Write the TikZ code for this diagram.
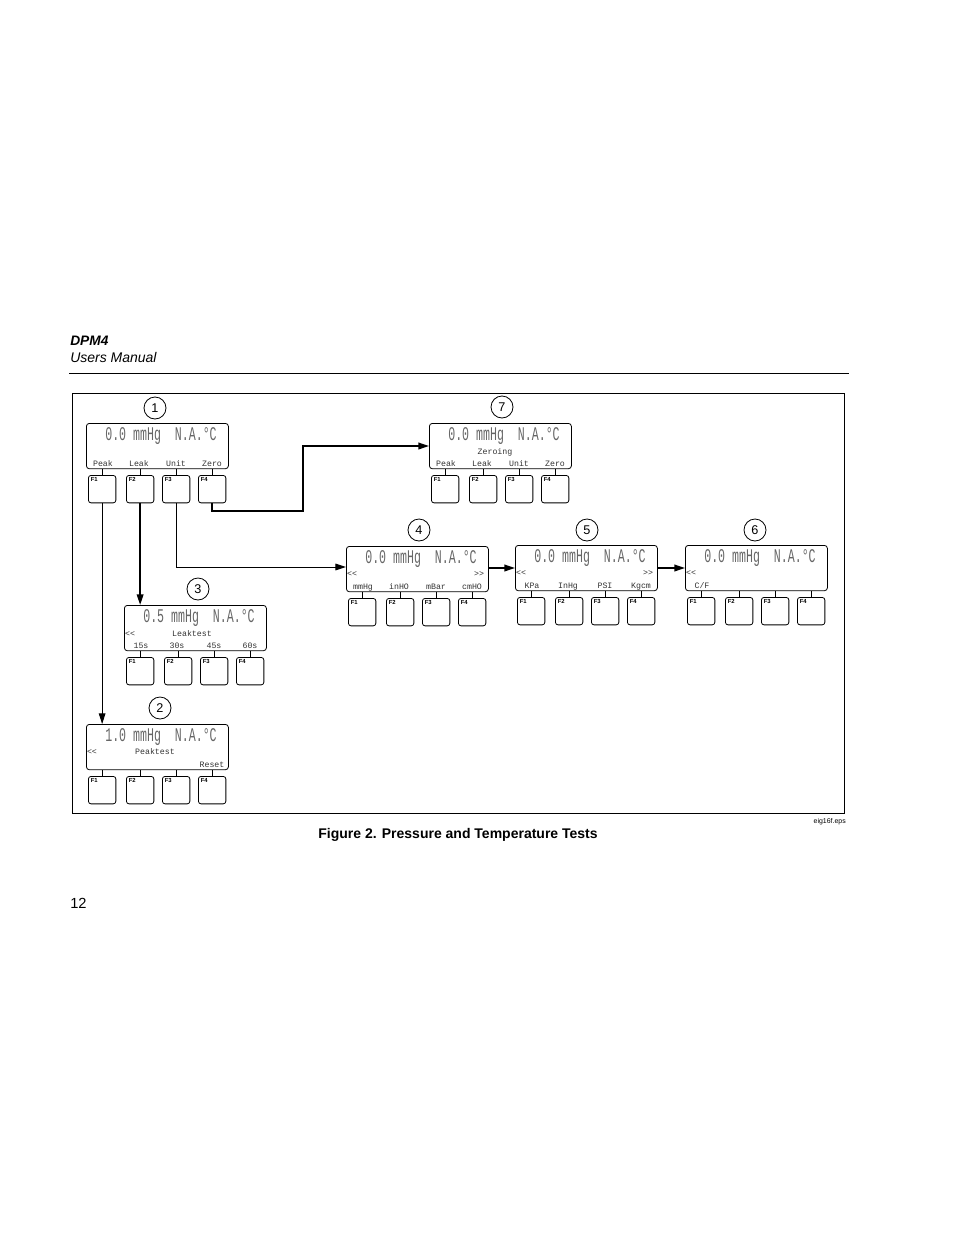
\documentclass[tikz,border=0pt]{standalone}
\usepackage{fontspec}
\setmainfont{Liberation Sans}
\newfontfamily\lcd{Liberation Mono}
\usetikzlibrary{arrows.meta}
\tikzset{
  x=0.75pt,y=-0.75pt,
  display/.style={draw,rounded corners=2.2pt,line width=0.6pt,minimum width=106.5pt,minimum height=34pt,inner sep=0pt,anchor=north west},
  fkey/.style={draw,rounded corners=2pt,line width=0.6pt,minimum width=20.6pt,minimum height=20.6pt,inner sep=0pt,anchor=north west},
  fname/.style={font=\fontsize{4.4}{5}\selectfont\bfseries,inner sep=0pt,anchor=north west},
  stem/.style={line width=0.6pt},
  reading/.style={font=\lcd\fontsize{14.5}{16}\selectfont,text=black!60,inner sep=0pt},
  softlabel/.style={font=\lcd\fontsize{6.2}{7}\selectfont,text=black!80,inner sep=0pt,anchor=base},
  callout/.style={draw,circle,line width=0.6pt,minimum size=16.5pt,inner sep=0pt,font=\fontsize{9.5}{11}\selectfont},
  flow/.style={line width=0.75pt,-{Triangle[length=8pt,width=5pt]}},
  flowheavy/.style={line width=1.2pt,-{Triangle[length=8pt,width=5pt]}}
}
% id, x, y, reading, four labels, extra contents
\newcommand{\lcdpanel}[9]{%
\begin{scope}[shift={(#2,#3)}]
  \node[display] (d#1) at (0,0) {};
  \node[reading] (r#1) at (75,13) {\scalebox{0.6}[1]{#4}};
  \node[softlabel] (la#1) at (17,43) {#5};
  \node[softlabel] (lb#1) at (53,43) {#6};
  \node[softlabel] (lc#1) at (90,43) {#7};
  \node[softlabel] (ld#1) at (126,43) {#8};
  \foreach \n/\bx in {1/2,2/40,3/76,4/112}{
    \node[fkey] (k#1f\n) at (\bx,52) {};
    \node[fname] (n#1f\n) at ({\bx+2.5},54.5) {F\n};
    \draw[stem] (k#1f\n.north) -- (k#1f\n.north |- d#1.south);
  }
  #9
\end{scope}}
\begin{document}
\begin{tikzpicture}
\useasboundingbox (0,0) rectangle (954,1235);
\node[font=\fontsize{10.3}{12}\selectfont\bfseries\itshape,anchor=base west,inner sep=0pt] (title) at (70,345) {DPM4};
\node[font=\fontsize{10.5}{12}\selectfont\itshape,anchor=base west,inner sep=0pt] (sub) at (70,362.5) {Users Manual};
\coordinate (ruleL) at (69,373);
\coordinate (ruleR) at (849,373);
\draw[line width=0.6pt] (ruleL) -- (ruleR);
\node[draw,line width=0.6pt,anchor=north west,minimum width=579pt,minimum height=315pt,inner sep=0pt] (frame) at (72,393) {};

\lcdpanel{1}{86}{423}{0.0 mmHg~~N.A.°C}{Peak}{Leak}{Unit}{Zero}{}
\lcdpanel{7}{429}{423}{0.0 mmHg~~N.A.°C}{Peak}{Leak}{Unit}{Zero}{\node[softlabel] (x7) at (66,31) {Zeroing};}
\lcdpanel{4}{346}{546}{0.0 mmHg~~N.A.°C}{mmHg}{inHO}{mBar}{cmHO}{\node[softlabel] (x4a) at (6,30) {<{}<}; \node[softlabel] (x4b) at (133,30) {>{}>};}
\lcdpanel{5}{515}{545}{0.0 mmHg~~N.A.°C}{KPa}{InHg}{PSI}{Kgcm}{\node[softlabel] (x5a) at (6,30) {<{}<}; \node[softlabel] (x5b) at (133,30) {>{}>};}
\lcdpanel{6}{685}{545}{0.0 mmHg~~N.A.°C}{C/F}{}{}{}{\node[softlabel] (x6a) at (6,30) {<{}<};}
\lcdpanel{3}{124}{605}{0.5 mmHg~~N.A.°C}{15s}{30s}{45s}{60s}{\node[softlabel] (x3a) at (6,31) {<{}<}; \node[softlabel] (x3b) at (68,31) {Leaktest};}
\lcdpanel{2}{86}{724}{1.0 mmHg~~N.A.°C}{}{}{}{Reset}{\node[softlabel] (x2a) at (6,30) {<{}<}; \node[softlabel] (x2b) at (69,30) {Peaktest};}

\node[callout] (c1) at (155,408) {1};
\node[callout] (c7) at (502,407) {7};
\node[callout] (c4) at (419,530) {4};
\node[callout] (c5) at (587,530) {5};
\node[callout] (c6) at (755,530) {6};
\node[callout] (c3) at (198,589) {3};
\node[callout] (c2) at (160,708) {2};

\draw[flow] (k1f1.south) -- (k1f1.south |- d2.north);
\draw[flowheavy] (k1f2.south) -- (k1f2.south |- d3.north);
\draw[flow] (k1f3.south) |- (d4.west |- 0,567);
\draw[flowheavy] (k1f4.south) |- (303,511) |- (d7.west |- 0,446);
\draw[flowheavy] (d4.east |- 0,568) -- (d5.west |- 0,568);
\draw[flowheavy] (d5.east |- 0,568) -- (d6.west |- 0,568);

\node[font=\fontsize{5.2}{6}\selectfont,anchor=base east,inner sep=0pt] (file) at (846,823) {eig16f.eps};
\node[font=\fontsize{10.5}{12}\selectfont\bfseries,anchor=base,inner sep=0pt] (cap) at (458,838) {Figure 2. Pressure and Temperature Tests};
\node[font=\fontsize{11}{13}\selectfont,anchor=base west,inner sep=0pt] (page) at (70,908) {12};
\end{tikzpicture}
\end{document}
